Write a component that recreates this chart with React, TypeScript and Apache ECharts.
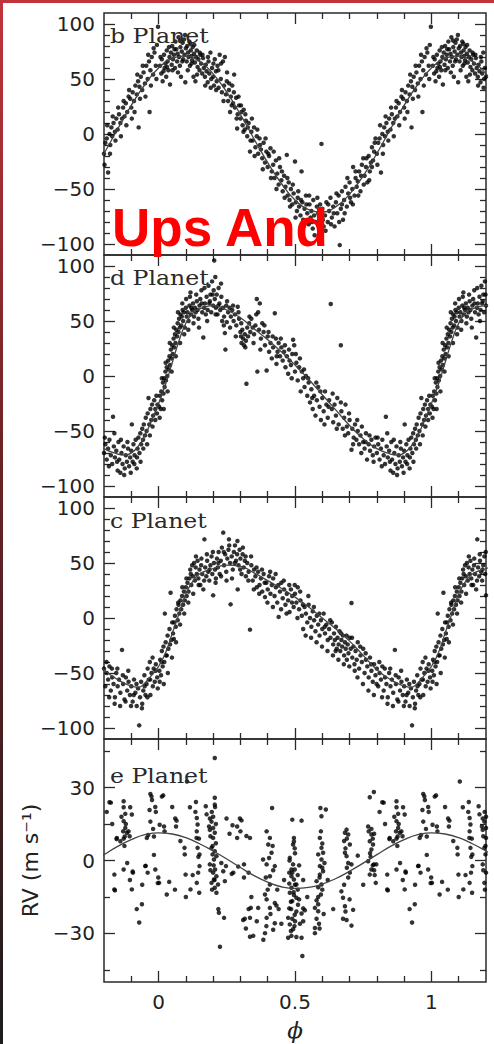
import React, { useEffect, useRef } from 'react';
import * as echarts from 'echarts';

// ---------- axes ----------
const phaseRange = [-0.2, 1.2];
const xMajorTicks = [0, 0.5, 1];
const xMinorTicks = [-0.1, 0.1, 0.2, 0.3, 0.4, 0.6, 0.7, 0.8, 0.9, 1.1];
const xTickLabels = [0, 0.5, 1];

const panelTitles = ['b Planet', 'd Planet', 'c Planet', 'e Planet'];
const rvRangeLarge = [-110, 110];
const rvRangeSmall = [-50, 50];
const yMajorLarge = [-100, -50, 0, 50, 100];
const yMinorLarge = [-90, -80, -70, -60, -40, -30, -20, -10, 10, 20, 30, 40, 60, 70, 80, 90];
const yMajorSmall = [-30, 0, 30];
const yMinorSmall = [-45, -15, 15, 45];

// ---------- model curves (phase 0..1) ----------
const curveB = [[0,60],[0.05,68.8],[0.1,70.9],[0.15,66],[0.2,54.7],[0.25,38],[0.3,17.7],[0.35,-4.5],[0.4,-26],[0.45,-45],[0.5,-60],[0.55,-68.8],[0.6,-70.9],[0.65,-66],[0.7,-54.7],[0.75,-38],[0.8,-17.7],[0.85,4.5],[0.9,26],[0.95,45]];
const curveD = [[0,-25],[0.025,-8],[0.05,12],[0.075,32],[0.1,48],[0.125,57],[0.15,61],[0.2,64],[0.25,60],[0.3,53],[0.35,43],[0.4,33],[0.45,22],[0.5,10],[0.55,-3],[0.6,-17],[0.65,-31],[0.7,-45],[0.75,-57],[0.8,-66],[0.85,-71],[0.875,-72],[0.9,-70],[0.925,-64],[0.95,-54],[0.975,-40]];
const curveC = [[0,-44],[0.025,-32],[0.05,-14],[0.075,4],[0.1,22],[0.125,33],[0.15,40],[0.2,45],[0.25,48],[0.3,47],[0.35,41],[0.4,34],[0.45,27],[0.5,19],[0.55,10],[0.6,0],[0.65,-10],[0.7,-21],[0.75,-34],[0.8,-47],[0.85,-56],[0.9,-62],[0.925,-63],[0.95,-59],[0.975,-52]];
const curveE = [[0,11.4],[0.05,10.9],[0.1,9.4],[0.15,6.9],[0.2,3.9],[0.25,0.6],[0.3,-2.9],[0.35,-6.2],[0.4,-8.9],[0.45,-10.8],[0.5,-11.5],[0.55,-11.1],[0.6,-9.7],[0.65,-7.4],[0.7,-4.4],[0.75,-1.1],[0.8,2.4],[0.85,5.8],[0.9,8.6],[0.95,10.6]];

// ---------- observations (phase 0..1, RV m/s) ----------
const obsB = [[0.005,62],[0.01,55],[0.012,68],[0.015,48],[0.02,72],[0.022,60],[0.025,64],[0.028,52],[0.03,76],[0.033,66],[0.036,58],[0.04,70],[0.042,45],[0.045,74],[0.048,63],[0.05,80],[0.053,68],[0.056,72],[0.06,60],[0.062,84],[0.065,77],[0.068,66],[0.07,73],[0.073,88],[0.075,70],[0.078,62],[0.08,79],[0.082,52],[0.085,75],[0.088,83],[0.09,68],[0.093,86],[0.095,72],[0.098,47],[0.1,78],[0.103,66],[0.105,80],[0.108,74],[0.11,70],[0.113,84],[0.115,62],[0.118,76],[0.12,71],[0.123,67],[0.125,79],[0.128,52],[0.13,73],[0.133,65],[0.135,48],[0.138,70],[0.14,76],[0.143,61],[0.146,68],[0.15,58],[0.153,72],[0.156,64],[0.16,55],[0.163,69],[0.166,60],[0.17,52],[0.173,63],[0.176,57],[0.18,47],[0.183,66],[0.186,55],[0.19,74],[0.193,50],[0.196,60],[0.2,52],[0.203,44],[0.206,68],[0.21,57],[0.213,48],[0.216,62],[0.22,42],[0.224,72],[0.228,50],[0.232,38],[0.236,66],[0.24,44],[0.243,70],[0.247,36],[0.25,48],[0.255,30],[0.258,40],[0.262,20],[0.265,34],[0.27,44],[0.273,28],[0.277,54],[0.28,24],[0.284,33],[0.288,5],[0.29,18],[0.295,26],[0.3,14],[0.304,20],[0.308,8],[0.312,22],[0.316,4],[0.32,12],[0.325,-2],[0.33,10],[0.335,-16],[0.34,2],[0.345,-6],[0.35,6],[0.355,-12],[0.36,-2],[0.365,-18],[0.37,-4],[0.375,-14],[0.38,-22],[0.385,-8],[0.39,-26],[0.395,-16],[0.4,-30],[0.405,-20],[0.41,-13],[0.415,-34],[0.42,-28],[0.425,-40],[0.43,-24],[0.435,-36],[0.44,-46],[0.445,-30],[0.45,-42],[0.455,-52],[0.46,-38],[0.465,-48],[0.47,-19],[0.473,-56],[0.477,-44],[0.48,-60],[0.485,-50],[0.49,-64],[0.495,-54],[0.5,-25],[0.503,-62],[0.507,-70],[0.51,-58],[0.515,-66],[0.52,-74],[0.524,-34],[0.527,-62],[0.53,-78],[0.535,-68],[0.54,-56],[0.545,-72],[0.55,-82],[0.553,-64],[0.557,-76],[0.56,-70],[0.565,-86],[0.567,-60],[0.57,-74],[0.575,-80],[0.58,-66],[0.585,-72],[0.59,-90],[0.593,-78],[0.597,-9],[0.6,-68],[0.605,-84],[0.61,-74],[0.615,-62],[0.62,-80],[0.625,-70],[0.63,-58],[0.635,-76],[0.64,-66],[0.645,-84],[0.65,-62],[0.655,-72],[0.66,-56],[0.664,-101],[0.668,-68],[0.672,-52],[0.676,-78],[0.68,-60],[0.685,-48],[0.69,-66],[0.695,-54],[0.7,-44],[0.705,-62],[0.71,-50],[0.713,-30],[0.718,-56],[0.722,-40],[0.726,-48],[0.73,-43],[0.735,-34],[0.74,-52],[0.745,-28],[0.75,-22],[0.755,-38],[0.76,-30],[0.765,-44],[0.77,-20],[0.774,-34],[0.778,-26],[0.782,-12],[0.786,-24],[0.79,-16],[0.795,-4],[0.8,-18],[0.805,-8],[0.81,-4],[0.815,-35],[0.82,0],[0.823,-10],[0.827,6],[0.83,-2],[0.835,10],[0.84,2],[0.845,14],[0.85,4],[0.855,18],[0.86,10],[0.866,14],[0.87,24],[0.875,16],[0.88,28],[0.885,20],[0.89,34],[0.896,32],[0.9,24],[0.905,38],[0.91,30],[0.915,44],[0.92,36],[0.925,48],[0.927,6],[0.93,43],[0.935,52],[0.94,40],[0.945,56],[0.95,46],[0.955,62],[0.96,50],[0.965,66],[0.967,20],[0.97,58],[0.975,70],[0.98,54],[0.985,74],[0.99,62],[0.994,81],[0.998,97.5]];
const obsBExtra = [[0.007,70],[0.018,57],[0.031,61],[0.038,79],[0.051,58],[0.058,77],[0.071,56],[0.079,85],[0.087,66],[0.097,90],[0.107,58],[0.117,82],[0.121,64],[0.131,81],[0.141,54],[0.151,74],[0.161,72],[0.171,44],[0.181,70],[0.191,42],[0.201,64],[0.211,40],[0.219,58],[0.229,64],[0.238,30],[0.251,56],[0.259,46],[0.268,26],[0.276,38],[0.286,14],[0.293,34],[0.302,26],[0.311,2],[0.318,18],[0.327,6],[0.337,-6],[0.342,14],[0.352,-20],[0.362,4],[0.372,-10],[0.382,-32],[0.392,-4],[0.402,-18],[0.412,-40],[0.422,-16],[0.432,-50],[0.442,-22],[0.452,-34],[0.462,-58],[0.472,-40],[0.482,-66],[0.492,-46],[0.502,-76],[0.512,-52],[0.522,-60],[0.532,-84],[0.542,-64],[0.552,-56],[0.562,-80],[0.572,-92],[0.582,-58],[0.592,-64],[0.602,-78],[0.612,-88],[0.622,-64],[0.632,-82],[0.642,-72],[0.652,-54],[0.662,-80],[0.672,-64],[0.682,-72],[0.692,-40],[0.702,-58],[0.712,-64],[0.722,-34],[0.732,-56],[0.742,-38],[0.752,-46],[0.762,-22],[0.772,-42],[0.782,-30],[0.792,-8],[0.802,-28],[0.812,8],[0.822,-18],[0.832,16],[0.842,-6],[0.852,24],[0.862,-2],[0.872,30],[0.882,8],[0.892,40],[0.902,14],[0.912,20],[0.922,54],[0.932,32],[0.942,62],[0.952,34],[0.962,72],[0.972,44],[0.982,78],[0.992,50]];

const obsD = [[0.002,-28],[0.005,-18],[0.008,-30],[0.01,-14],[0.013,-22],[0.016,-6],[0.018,-16],[0.02,-2],[0.022,-10],[0.025,4],[0.027,-4],[0.03,8],[0.032,0],[0.035,14],[0.037,6],[0.04,18],[0.042,10],[0.045,24],[0.047,16],[0.05,28],[0.052,20],[0.055,34],[0.057,26],[0.06,38],[0.062,30],[0.065,42],[0.068,36],[0.07,48],[0.073,40],[0.075,52],[0.078,44],[0.08,56],[0.083,46],[0.085,54],[0.088,60],[0.09,50],[0.093,58],[0.096,44],[0.1,62],[0.103,54],[0.106,58],[0.11,50],[0.113,64],[0.115,72],[0.118,56],[0.12,62],[0.123,60],[0.126,66],[0.13,54],[0.133,62],[0.136,58],[0.14,68],[0.143,60],[0.146,52],[0.15,64],[0.153,70],[0.157,78],[0.16,58],[0.164,35],[0.167,62],[0.17,66],[0.173,56],[0.176,72],[0.18,60],[0.183,82],[0.186,66],[0.19,74],[0.193,58],[0.196,86],[0.2,64],[0.202,78],[0.204,105],[0.206,70],[0.208,90],[0.21,62],[0.213,74],[0.216,56],[0.22,80],[0.223,66],[0.226,60],[0.23,72],[0.233,50],[0.236,62],[0.24,54],[0.243,39],[0.245,24],[0.248,64],[0.25,49],[0.255,58],[0.26,62],[0.265,54],[0.27,60],[0.275,50],[0.28,56],[0.285,46],[0.29,63],[0.295,52],[0.3,40],[0.302,36],[0.304,30],[0.307,42],[0.31,34],[0.313,28],[0.316,38],[0.32,32],[0.322,-7],[0.325,44],[0.328,36],[0.332,48],[0.336,40],[0.34,52],[0.345,44],[0.35,38],[0.355,46],[0.36,70],[0.362,4],[0.365,58],[0.368,42],[0.371,66],[0.375,34],[0.38,48],[0.385,40],[0.39,28],[0.396,5],[0.4,36],[0.405,22],[0.41,30],[0.415,16],[0.42,26],[0.426,57],[0.43,34],[0.432,11],[0.436,22],[0.44,30],[0.445,18],[0.45,26],[0.455,14],[0.46,22],[0.465,8],[0.47,18],[0.475,2],[0.48,14],[0.485,10],[0.49,20],[0.493,33],[0.497,28],[0.5,4],[0.505,12],[0.51,-4],[0.515,8],[0.521,-14],[0.525,4],[0.53,-2],[0.535,-10],[0.54,0],[0.545,-18],[0.55,-6],[0.555,-24],[0.56,-12],[0.565,-30],[0.57,-18],[0.575,-36],[0.58,-22],[0.585,-10],[0.59,-28],[0.595,-40],[0.6,-20],[0.605,-32],[0.61,-14],[0.615,-26],[0.62,-38],[0.625,-22],[0.631,65.5],[0.635,-30],[0.64,-42],[0.645,-26],[0.65,-36],[0.655,-20],[0.66,-44],[0.668,28],[0.67,-32],[0.675,-48],[0.68,-38],[0.685,-26],[0.69,-46],[0.695,-52],[0.7,-40],[0.707,-67],[0.71,-48],[0.715,-56],[0.72,-44],[0.725,-58],[0.73,-50],[0.735,-62],[0.74,-54],[0.745,-46],[0.75,-60],[0.755,-66],[0.76,-52],[0.764,-76],[0.77,-62],[0.775,-68],[0.78,-58],[0.785,-72],[0.79,-64],[0.795,-56],[0.8,-70],[0.805,-62],[0.81,-76],[0.815,-66],[0.82,-58],[0.825,-72],[0.83,-80],[0.833,-37],[0.836,-64],[0.84,-74],[0.845,-68],[0.85,-86],[0.853,-60],[0.856,-76],[0.86,-88],[0.864,-70],[0.868,-80],[0.872,-64],[0.876,-84],[0.88,-72],[0.884,-78],[0.888,-66],[0.892,-82],[0.896,-74],[0.9,-68],[0.902,-44],[0.905,-78],[0.908,-62],[0.912,-72],[0.916,-58],[0.92,-84],[0.923,-66],[0.926,-56],[0.93,-70],[0.933,-52],[0.936,-62],[0.94,-48],[0.943,-58],[0.946,-44],[0.95,-54],[0.953,-38],[0.956,-50],[0.96,-34],[0.963,-20],[0.966,-44],[0.97,-30],[0.973,-40],[0.976,-26],[0.98,-36],[0.984,-22],[0.988,-30],[0.992,-18],[0.996,-26]];
const obsDExtra = [[0.004,-38],[0.012,-2],[0.019,-30],[0.026,12],[0.033,-14],[0.041,30],[0.048,4],[0.056,44],[0.063,18],[0.071,58],[0.079,30],[0.087,66],[0.094,38],[0.101,70],[0.109,42],[0.117,76],[0.128,48],[0.138,74],[0.148,44],[0.158,66],[0.168,80],[0.178,50],[0.188,68],[0.198,74],[0.209,56],[0.219,64],[0.229,84],[0.239,46],[0.251,68],[0.262,44],[0.273,64],[0.283,36],[0.293,58],[0.303,48],[0.318,26],[0.333,54],[0.348,30],[0.358,56],[0.373,24],[0.388,46],[0.403,40],[0.418,36],[0.433,18],[0.448,34],[0.463,28],[0.478,24],[0.488,-2],[0.503,20],[0.518,16],[0.533,6],[0.548,-2],[0.563,-20],[0.578,-6],[0.593,-14],[0.608,-44],[0.623,-28],[0.638,-16],[0.653,-48],[0.668,-24],[0.683,-54],[0.698,-34],[0.713,-62],[0.728,-40],[0.743,-70],[0.758,-60],[0.773,-54],[0.788,-78],[0.803,-56],[0.818,-82],[0.838,-52],[0.848,-78],[0.862,-58],[0.874,-90],[0.886,-60],[0.898,-88],[0.911,-80],[0.921,-74],[0.934,-78],[0.944,-66],[0.958,-62],[0.968,-54],[0.978,-46],[0.988,-40],[0.994,-34]];

const obsC = [[0.003,-48],[0.006,-38],[0.009,-52],[0.012,-30],[0.015,-44],[0.018,-26],[0.021,-40],[0.023,4],[0.026,-22],[0.03,-34],[0.033,-16],[0.036,-28],[0.04,-10],[0.044,23],[0.047,-20],[0.05,-4],[0.053,-14],[0.056,-19],[0.06,2],[0.063,-8],[0.066,8],[0.07,-2],[0.073,12],[0.076,4],[0.08,16],[0.083,8],[0.086,20],[0.09,12],[0.093,24],[0.096,16],[0.1,28],[0.103,20],[0.106,32],[0.11,24],[0.113,36],[0.116,44],[0.12,30],[0.123,48],[0.126,38],[0.13,50],[0.133,34],[0.136,46],[0.14,40],[0.143,52],[0.146,36],[0.15,44],[0.153,30],[0.156,48],[0.16,40],[0.164,26],[0.168,71.5],[0.171,46],[0.175,38],[0.178,52],[0.182,42],[0.186,34],[0.19,48],[0.194,56],[0.197,40],[0.2,20.6],[0.203,50],[0.207,44],[0.21,36],[0.214,54],[0.217,46],[0.22,60],[0.224,40],[0.228,52],[0.232,64],[0.237,77.6],[0.24,48],[0.244,58],[0.248,42],[0.252,54],[0.256,62],[0.258,71.5],[0.262,50],[0.264,12.4],[0.268,56],[0.272,44],[0.276,60],[0.28,66],[0.284,52],[0.288,58],[0.29,26],[0.293,48],[0.297,62],[0.3,54],[0.304,40],[0.308,58],[0.312,46],[0.316,52],[0.32,38],[0.325,50],[0.33,42],[0.335,-10.6],[0.34,48],[0.345,34],[0.35,44],[0.355,38],[0.36,28],[0.365,42],[0.37,30],[0.375,36],[0.38,24],[0.385,40],[0.39,19],[0.395,32],[0.4,26],[0.405,38],[0.41,22],[0.415,30],[0.42,36],[0.425,20],[0.43,28],[0.435,14],[0.44,1],[0.445,24],[0.45,32],[0.455,18],[0.46,26],[0.465,12],[0.47,22],[0.475,16],[0.48,5.5],[0.485,26],[0.49,20],[0.495,10],[0.5,22],[0.505,14],[0.51,28],[0.515,8],[0.52,16],[0.525,2],[0.53,-10],[0.535,10],[0.54,4],[0.545,-4],[0.55,12],[0.555,0],[0.56,-8],[0.565,6],[0.57,-2],[0.575,-12],[0.58,2],[0.585,-6],[0.59,-16],[0.595,-2],[0.6,-10],[0.605,4],[0.61,-14],[0.615,-6],[0.62,-20],[0.625,-10],[0.63,-18],[0.635,-4],[0.64,-24],[0.643,-14],[0.646,-20],[0.65,-8],[0.653,-28],[0.656,-18],[0.66,-24],[0.663,-12],[0.666,-30],[0.67,-20],[0.673,-26],[0.676,-16],[0.68,-34],[0.683,-22],[0.686,-28],[0.69,-38],[0.693,-24],[0.696,-32],[0.7,-18],[0.704,-28],[0.707,13.6],[0.71,-36],[0.714,-26],[0.718,-42],[0.722,-30],[0.726,-38],[0.73,-22],[0.735,-46],[0.74,-34],[0.745,-40],[0.75,-28],[0.755,-50],[0.76,-38],[0.765,-44],[0.77,-54],[0.775,-36],[0.78,-48],[0.785,-58],[0.79,-42],[0.795,-52],[0.8,-46],[0.805,-62],[0.81,-50],[0.815,-56],[0.82,-44],[0.825,-66],[0.83,-54],[0.835,-60],[0.84,-72],[0.845,-50],[0.85,-62],[0.855,-56],[0.86,-68],[0.866,-29],[0.87,-60],[0.875,-74],[0.88,-54],[0.885,-66],[0.89,-58],[0.895,-70],[0.9,-62],[0.905,-76],[0.91,-56],[0.915,-68],[0.92,-80],[0.925,-64],[0.929,-97.6],[0.932,-72],[0.936,-58],[0.94,-78],[0.944,-66],[0.948,-52],[0.952,-70],[0.956,-60],[0.96,-46],[0.964,-56],[0.968,-40],[0.97,-70],[0.974,-50],[0.978,-36],[0.982,-46],[0.986,-58],[0.99,-42],[0.995,-54]];
const obsCExtra = [[0.004,-58],[0.011,-40],[0.019,-60],[0.027,-34],[0.034,-50],[0.042,-24],[0.049,-36],[0.057,-4],[0.064,-22],[0.072,14],[0.079,-6],[0.087,28],[0.094,4],[0.102,36],[0.109,14],[0.118,40],[0.127,22],[0.137,56],[0.147,30],[0.157,54],[0.167,34],[0.177,58],[0.187,44],[0.199,60],[0.209,32],[0.219,50],[0.229,38],[0.239,60],[0.249,34],[0.259,66],[0.269,36],[0.279,50],[0.289,70],[0.299,44],[0.309,64],[0.319,56],[0.329,34],[0.339,56],[0.349,26],[0.359,46],[0.369,22],[0.379,44],[0.389,32],[0.399,14],[0.409,42],[0.419,10],[0.429,40],[0.439,30],[0.449,8],[0.459,34],[0.469,4],[0.479,30],[0.489,14],[0.499,30],[0.509,0],[0.519,24],[0.529,12],[0.539,-16],[0.549,20],[0.559,-18],[0.569,10],[0.579,-22],[0.589,4],[0.599,-26],[0.609,-8],[0.619,-30],[0.629,-2],[0.639,-34],[0.649,-30],[0.659,-38],[0.669,-14],[0.679,-42],[0.689,-16],[0.699,-44],[0.709,-18],[0.719,-48],[0.729,-54],[0.739,-26],[0.749,-60],[0.759,-32],[0.769,-66],[0.779,-42],[0.789,-70],[0.799,-60],[0.809,-40],[0.819,-72],[0.829,-46],[0.839,-78],[0.849,-46],[0.859,-80],[0.869,-52],[0.879,-76],[0.889,-48],[0.899,-80],[0.909,-70],[0.919,-60],[0.939,-82],[0.949,-62],[0.959,-72],[0.969,-56],[0.979,-62],[0.989,-48],[0.997,-64]];

const obsE = [[0.002,-9.2],[0.004,14.7],[0.012,26.3],[0.017,26.8],[0.02,14],[0.022,12],[0.039,-8.8],[0.061,17.3],[0.066,16.4],[0.064,14],[0.095,5.2],[0.096,2.5],[0.099,-5.8],[0.104,32.5],[0.115,21.9],[0.117,-11.9],[0.137,24.1],[0.14,17.5],[0.143,14.8],[0.139,9.3],[0.148,9],[0.143,5.2],[0.15,2.5],[0.146,1.5],[0.14,-9.2],[0.149,-13.3],[0.15,-2.3],[0.173,22.3],[0.176,19],[0.188,17.3],[0.194,16],[0.206,25.8],[0.206,23],[0.207,22],[0.188,12.6],[0.2,13.4],[0.206,11.4],[0.2,9.3],[0.21,7.1],[0.194,5.2],[0.206,3.8],[0.198,2.5],[0.212,1.8],[0.203,0.4],[0.188,-1.6],[0.207,-3.7],[0.2,-5],[0.212,-6.5],[0.203,-7.8],[0.194,-9.2],[0.206,-11.2],[0.218,-9.9],[0.212,-13.3],[0.219,-20],[0.221,-21.5],[0.24,-23.6],[0.225,-35.5],[0.206,42.2],[0.23,-1],[0.237,-4.4],[0.243,-8.5],[0.249,17.3],[0.271,14.5],[0.288,14],[0.298,17.3],[0.304,16.5],[0.288,9.3],[0.322,10.1],[0.335,9.3],[0.313,-1.6],[0.274,-5],[0.313,-7],[0.292,-2.5],[0.247,-2.3],[0.268,-5.5],[0.33,-5],[0.316,-24],[0.335,-23.6],[0.335,-31.4],[0.31,-24.5],[0.347,-31],[0.34,-15],[0.338,-19.5],[0.416,21.6],[0.396,12],[0.408,9.3],[0.402,6.6],[0.418,6],[0.414,3.2],[0.383,0.4],[0.396,-1.6],[0.426,-2.3],[0.393,-7],[0.408,-6.5],[0.408,-9.9],[0.39,-14],[0.396,-16],[0.426,-17.5],[0.408,-19.5],[0.432,-18.5],[0.365,-19.5],[0.396,-23.6],[0.426,-25.8],[0.39,-29.9],[0.42,-28.5],[0.384,-32.6],[0.44,-20],[0.435,-12],[0.49,16.8],[0.524,16.4],[0.496,9.3],[0.493,6.6],[0.499,5],[0.481,1.1],[0.493,-1.6],[0.499,-3.7],[0.479,-5],[0.487,-6.5],[0.496,-7.8],[0.505,-9.9],[0.487,-11.2],[0.481,-13.3],[0.496,-14.2],[0.505,-15.3],[0.49,-16.7],[0.511,-18.2],[0.479,-19.7],[0.53,-19.7],[0.524,-21.8],[0.499,-22.3],[0.536,-20.5],[0.475,-23.6],[0.481,-26.3],[0.493,-28.3],[0.475,-31.8],[0.487,-31],[0.505,-31.5],[0.524,-31.8],[0.527,-39.3],[0.479,-9.5],[0.487,-3.7],[0.496,7.8],[0.51,-12],[0.518,-26],[0.5,-25],[0.486,-20],[0.53,-8],[0.515,-2],[0.593,21.6],[0.613,21],[0.597,18.2],[0.591,9.3],[0.597,5.2],[0.603,3.2],[0.585,2.5],[0.597,0.4],[0.591,-2.3],[0.603,-4.4],[0.591,-5.8],[0.579,-8.5],[0.597,-9.9],[0.585,-15],[0.579,-16.4],[0.573,-19.5],[0.585,-20.9],[0.579,-24],[0.573,-27.8],[0.573,-29.9],[0.6,-12],[0.588,-26],[0.608,-1],[0.6,7],[0.689,12.7],[0.683,11.4],[0.695,10.7],[0.701,6.6],[0.683,3.2],[0.689,1.8],[0.707,-1.6],[0.701,-5],[0.695,-7],[0.67,-12.7],[0.676,-15.3],[0.683,-18.8],[0.713,-20.3],[0.676,-24],[0.689,-24.5],[0.707,-26.8],[0.69,-3],[0.68,8],[0.774,26],[0.789,28.2],[0.768,14],[0.78,10.7],[0.774,7.9],[0.786,6.6],[0.78,4.5],[0.768,-0.3],[0.789,-1.6],[0.78,-3.7],[0.774,-5.8],[0.796,-9.2],[0.798,-1.6],[0.77,12],[0.785,9],[0.792,-6],[0.777,1.5],[0.82,24],[0.872,24.4],[0.872,21.9],[0.878,19.2],[0.896,21.9],[0.902,18.9],[0.872,16.2],[0.878,13.4],[0.884,11.4],[0.894,10],[0.872,9],[0.847,9.3],[0.86,7.9],[0.838,-5.8],[0.872,-3.7],[0.906,-5],[0.838,-11.9],[0.902,-11.9],[0.939,-18],[0.929,-25.5],[0.825,23.8],[0.84,-12.3],[0.846,8.8],[0.864,18],[0.876,9.9],[0.89,12],[0.905,-4.5],[0.97,27.4],[0.976,24.9],[0.988,22],[0.967,20.8],[0.957,9.3],[0.983,9.9],[0.983,2.3],[0.951,-2.3],[0.988,-3.7],[0.999,-7],[0.997,-9.3],[0.953,-2.2],[0.974,26.4],[0.962,10.5]];
const obsEExtra = [[0.195,20],[0.2,18],[0.19,10],[0.198,6],[0.202,-2],[0.19,-4],[0.205,-8],[0.196,-12],[0.185,14],[0.21,15],[0.49,-5],[0.5,-10],[0.495,-13],[0.485,-17],[0.505,-21],[0.49,-24],[0.498,-27],[0.485,-29],[0.51,-6],[0.48,0],[0.5,3],[0.515,-16],[0.59,-7],[0.6,-3],[0.595,-14],[0.585,-18],[0.605,-22],[0.59,-28],[0.595,12],[0.585,-11],[0.685,5],[0.69,9],[0.695,-1],[0.68,-10],[0.7,-16],[0.685,-21],[0.78,13],[0.775,3],[0.785,-2],[0.79,-4],[0.79,11],[0.875,6],[0.88,15],[0.87,12],[0.885,-1],[0.895,-8],[0.14,12],[0.145,-5],[0.135,20],[0.4,-12],[0.41,-22],[0.395,-27],[0.405,1],[0.42,-4],[0.3,12],[0.26,11],[0.32,-28],[0.33,-20],[0.36,-25],[0.06,-12],[0.03,-14],[0.98,13],[0.96,-5],[0.99,20],[0.97,16],[0.05,22],[0.08,8],[0.1,-15],[0.125,-6],[0.53,-25],[0.545,-15],[0.62,-8],[0.64,-20],[0.73,2],[0.75,-10],[0.81,20],[0.83,15],[0.92,-20],[0.94,-10],[0.45,-26],[0.46,-8]];

const panelObs = [obsB.concat(obsBExtra), obsD.concat(obsDExtra), obsC.concat(obsCExtra), obsE.concat(obsEExtra)];
const panelCurves = [curveB, curveD, curveC, curveE];

// repeat phase-folded data over the displayed phase window
function wrapObs(points: number[][]) {
  const out: number[][] = [];
  for (const [p, v] of points) {
    out.push([p, v]);
    if (p - 1 >= phaseRange[0]) out.push([+(p - 1).toFixed(4), v]);
    if (p + 1 <= phaseRange[1]) out.push([+(p + 1).toFixed(4), v]);
  }
  return out;
}
function wrapCurve(points: number[][]) {
  const out: number[][] = [];
  for (const [p, v] of points) {
    out.push([p, v]);
    if (p >= 0.74) out.push([+(p - 1).toFixed(4), v]);
    if (p <= 0.26) out.push([+(p + 1).toFixed(4), v]);
  }
  out.sort((a, b) => a[0] - b[0]);
  return out;
}

const fmt = (v: number) => String(v).replace('-', '\u2212');

export default function App() {
  const ref = useRef<HTMLDivElement>(null);
  useEffect(() => {
    if (!ref.current) return;
    const chart = echarts.init(ref.current, undefined, { renderer: 'svg' });
    const W = 494;
    const gridLeft = 104;
    const gridWidth = 382;
    const tops = [13, 255, 497, 739];
    const heights = [242, 242, 242, 243];
    const axisColor = '#2a2a2a';
    const grid: any[] = [];
    const xAxis: any[] = [];
    const yAxis: any[] = [];
    const series: any[] = [];
    const graphic: any[] = [];

    for (let i = 0; i < 4; i++) {
      grid.push({
        left: gridLeft, width: gridWidth, top: tops[i], height: heights[i],
        show: true, borderColor: axisColor, borderWidth: 1.5, backgroundColor: 'transparent',
      });
      const last = i === 3;
      const yRange = last ? rvRangeSmall : rvRangeLarge;
      const yMajor = last ? yMajorSmall : yMajorLarge;
      const yMinor = last ? yMinorSmall : yMinorLarge;
      const xDefs = [
        { pos: 'bottom', ticks: xMajorTicks, len: 11, label: last },
        { pos: 'bottom', ticks: xMinorTicks, len: 6, label: false },
        { pos: 'top', ticks: xMajorTicks, len: 11, label: false },
        { pos: 'top', ticks: xMinorTicks, len: 6, label: false },
      ];
      xDefs.forEach((d, k) => {
        xAxis.push({
          type: 'value', gridIndex: i, position: d.pos,
          min: phaseRange[0], max: phaseRange[1],
          axisLine: { show: false, onZero: false }, splitLine: { show: false },
          axisTick: { show: true, inside: true, length: d.len, customValues: d.ticks, lineStyle: { color: axisColor, width: 1.3 } },
          axisLabel: d.label
            ? { show: true, customValues: xTickLabels, margin: 10, fontSize: 20, color: '#222', fontFamily: 'DejaVu Sans', formatter: (v: number) => fmt(v) }
            : { show: false },
          ...(d.label && k === 0
            ? { name: '\u03D5', nameLocation: 'middle', nameGap: 36, nameTextStyle: { fontSize: 23, color: '#222', fontFamily: 'DejaVu Serif', fontStyle: 'italic' } }
            : {}),
        });
      });
      const yDefs = [
        { pos: 'left', ticks: yMajor, len: 11, label: true },
        { pos: 'left', ticks: yMinor, len: 6, label: false },
        { pos: 'right', ticks: yMajor, len: 11, label: false },
        { pos: 'right', ticks: yMinor, len: 6, label: false },
      ];
      yDefs.forEach((d, k) => {
        yAxis.push({
          type: 'value', gridIndex: i, position: d.pos,
          min: yRange[0], max: yRange[1],
          axisLine: { show: false, onZero: false }, splitLine: { show: false },
          axisTick: { show: true, inside: true, length: d.len, customValues: d.ticks, lineStyle: { color: axisColor, width: 1.3 } },
          axisLabel: d.label
            ? { show: true, customValues: yMajor, margin: 9, fontSize: 20, color: '#222', fontFamily: 'DejaVu Sans', formatter: (v: number) => fmt(v) }
            : { show: false },
          ...(last && k === 0
            ? { name: 'RV (m s\u207B\u00B9)', nameLocation: 'middle', nameGap: 62, nameRotate: 90, nameTextStyle: { fontSize: 22, color: '#222', fontFamily: 'DejaVu Sans' } }
            : {}),
        });
      });
      series.push({
        type: 'scatter', xAxisIndex: i * 4, yAxisIndex: i * 4,
        data: wrapObs(panelObs[i]), symbol: 'circle', symbolSize: 4.5,
        itemStyle: { color: '#000' }, silent: true, clip: true,
      });
      series.push({
        type: 'line', xAxisIndex: i * 4, yAxisIndex: i * 4,
        data: wrapCurve(panelCurves[i]), smooth: true, showSymbol: false,
        lineStyle: { color: '#444', width: 1.3 }, silent: true, clip: true, z: 3,
      });
    }

    const titleY = [36, 278, 521, 776];
    panelTitles.forEach((t, i) => {
      graphic.push({
        type: 'text', x: 110, y: titleY[i], scaleX: 1.18, z: 50,
        style: { text: t, fill: '#2a2a2a', font: '20px "DejaVu Serif"', textVerticalAlign: 'middle', verticalAlign: 'middle' },
      });
    });
    graphic.push({
      type: 'text', x: 112, y: 227, z: 60,
      style: { text: 'Ups And', fill: '#ff0000', font: 'bold 53px "Liberation Sans"', textVerticalAlign: 'middle', verticalAlign: 'middle' },
    });
    graphic.push({ type: 'rect', z: 70, shape: { x: 0, y: 0, width: W, height: 3 }, style: { fill: '#c0353c' } });
    graphic.push({
      type: 'rect', z: 70, shape: { x: 0, y: 0, width: 3, height: 1044 },
      style: { fill: new echarts.graphic.LinearGradient(0, 0, 0, 1, [{ offset: 0, color: '#c0353c' }, { offset: 0.45, color: '#6a2226' }, { offset: 1, color: '#1c1c1c' }]) },
    });

    chart.setOption({
      animation: false,
      backgroundColor: '#ffffff',
      textStyle: { fontFamily: 'DejaVu Sans' },
      grid, xAxis, yAxis, series, graphic,
    });
    return () => chart.dispose();
  }, []);
  return <div ref={ref} style={{ position: 'absolute', left: 0, top: 0, width: 494, height: 1044 }} />;
}
